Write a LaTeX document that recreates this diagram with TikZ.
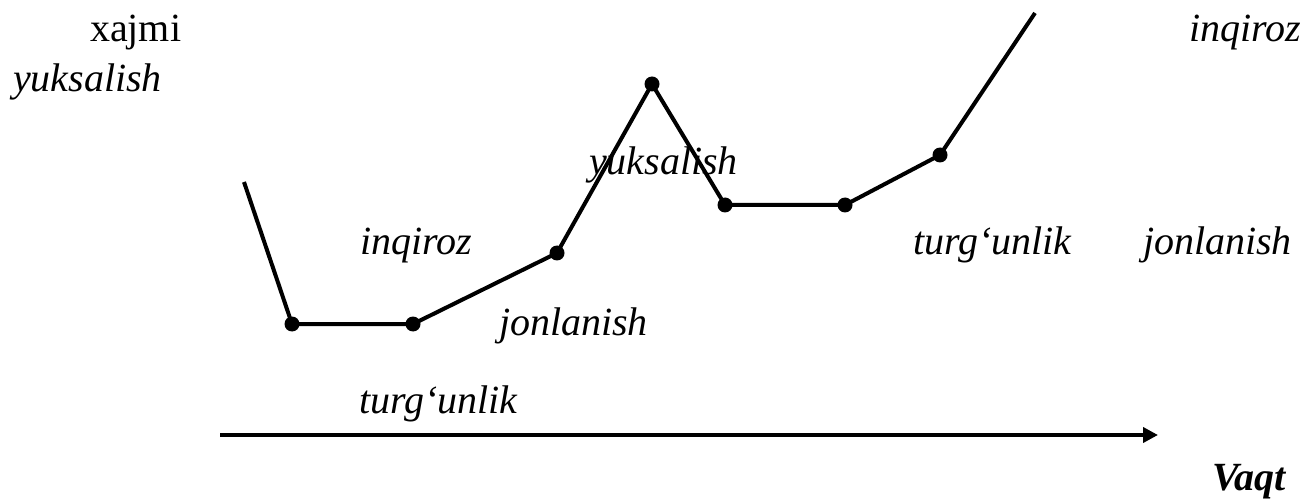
\documentclass[tikz,border=0pt]{standalone}
\usepackage{fontspec}
\setmainfont{Liberation Serif}
\usetikzlibrary{arrows.meta}
\begin{document}
\begin{tikzpicture}[x=0.5pt,y=-0.5pt,line width=2pt,
  dot/.style={circle,fill,inner sep=0,minimum size=7.5pt},
  lbl/.style={anchor=base west,inner sep=0,font=\fontsize{20}{24}\selectfont\itshape}]
\useasboundingbox (0,0) rectangle (1311,502);
% curve points
\coordinate (p0) at (244,182);
\node[dot] (p1) at (292,324) {};
\node[dot] (p2) at (413,324) {};
\node[dot] (p3) at (557,253) {};
\node[dot] (p4) at (652,84) {};
\node[dot] (p5) at (725,205) {};
\node[dot] (p6) at (845,205) {};
\node[dot] (p7) at (940,155) {};
\coordinate (p8) at (1035,13);
\draw[line join=round] (p0)--(p1.center)--(p2.center)--(p3.center)--(p4.center)--(p5.center)--(p6.center)--(p7.center)--(p8);
% time axis
\coordinate (t0) at (220,435);
\coordinate (t1) at (1158,435);
\draw[-{Triangle[length=7.5pt,width=7.5pt]}] (t0)--(t1);
% labels
\node[lbl,font=\fontsize{20}{24}\selectfont\upshape] (xajmi) at (88,42) {xajmi};
\node[lbl] (yuk1) at (11,92) {yuksalish};
\node[lbl] (inq1) at (1187,42) {inqiroz};
\node[lbl] (yuk2) at (587,175) {yuksalish};
\node[lbl] (inq2) at (358,255) {inqiroz};
\node[lbl] (tur1) at (911,255) {turg‘unlik};
\node[lbl] (jon1) at (1141,255) {jonlanish};
\node[lbl] (jon2) at (497,335) {jonlanish};
\node[lbl] (tur2) at (357,413) {turg‘unlik};
\node[lbl,font=\fontsize{20}{24}\selectfont\bfseries\itshape] (vaqt) at (1210,490) {Vaqt};
\end{tikzpicture}
\end{document}
